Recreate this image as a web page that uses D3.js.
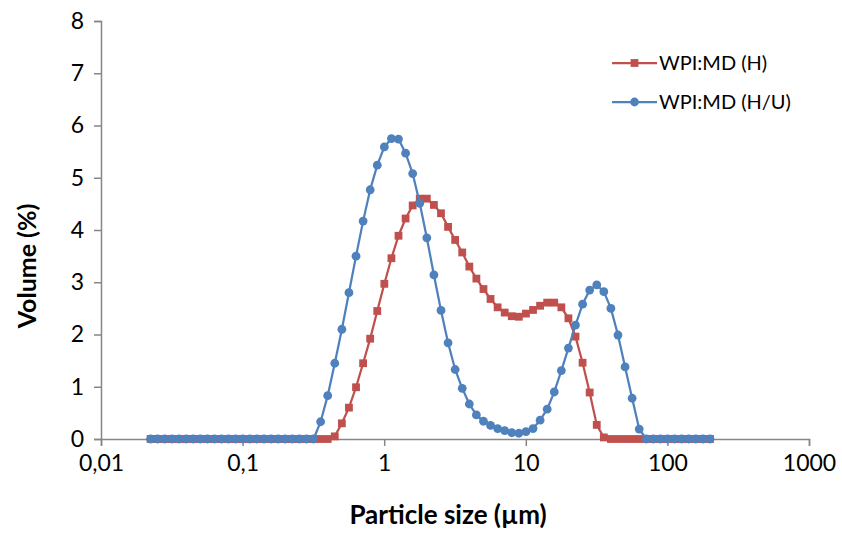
<!DOCTYPE html>
<html>
<head>
<meta charset="utf-8">
<script src="https://cdn.jsdelivr.net/npm/d3@7"></script>
<style>
  body { margin: 0; background: #fff; }
  text { font-family: Lato, "Open Sans", sans-serif; fill: #000; }
</style>
</head>
<body>
<div id="chart"></div>
<script>
// size classes (µm) of the diffraction analysis
const sizes = [
  0.0224, 0.0251, 0.0282, 0.0317, 0.0356, 0.0399, 0.0448, 0.0502, 0.0564, 0.0632,
  0.0710, 0.0796, 0.0893, 0.1002, 0.1125, 0.1262, 0.1416, 0.1589, 0.1783, 0.2,
  0.2244, 0.2518, 0.2825, 0.3170, 0.3557, 0.3991, 0.4477, 0.5024, 0.5637, 0.6325,
  0.7096, 0.7962, 0.8934, 1.0024, 1.1247, 1.2619, 1.4159, 1.5887, 1.7825, 2.0,
  2.244, 2.518, 2.825, 3.170, 3.557, 3.991, 4.477, 5.024, 5.637, 6.325,
  7.096, 7.962, 8.934, 10.024, 11.247, 12.619, 14.159, 15.887, 17.825, 20.0,
  22.440, 25.179, 28.251, 31.698, 35.566, 39.905, 44.774, 50.238, 56.368, 63.246,
  70.963, 79.621, 89.337, 100.237, 112.468, 126.191, 141.589, 158.866, 178.250, 200.0
];

// volume (%) per size class
const volH = [
  0, 0, 0, 0, 0, 0, 0, 0, 0, 0, 0, 0, 0, 0, 0, 0, 0, 0, 0, 0,
  0, 0, 0, 0, 0, 0, 0.05, 0.3, 0.6, 0.99, 1.45, 1.92, 2.45, 2.97, 3.46, 3.89, 4.22, 4.47, 4.6, 4.6,
  4.48, 4.32, 4.06, 3.81, 3.57, 3.3, 3.07, 2.87, 2.68, 2.52, 2.42, 2.35, 2.34, 2.4, 2.47, 2.55, 2.61, 2.61, 2.52, 2.31,
  1.96, 1.46, 0.89, 0.27, 0.03, 0, 0, 0, 0, 0, 0, 0, 0, 0, 0, 0, 0, 0, 0, 0
];
const volHU = [
  0, 0, 0, 0, 0, 0, 0, 0, 0, 0, 0, 0, 0, 0, 0, 0, 0, 0, 0, 0,
  0, 0, 0, 0, 0.33, 0.83, 1.45, 2.1, 2.8, 3.5, 4.17, 4.77, 5.24, 5.59, 5.75, 5.74, 5.47, 5.08, 4.51, 3.85,
  3.14, 2.46, 1.84, 1.33, 0.97, 0.67, 0.46, 0.34, 0.26, 0.2, 0.16, 0.12, 0.11, 0.14, 0.2, 0.36, 0.57, 0.9, 1.31, 1.74,
  2.18, 2.58, 2.85, 2.95, 2.82, 2.5, 1.99, 1.38, 0.78, 0.19, 0, 0, 0, 0, 0, 0, 0, 0, 0, 0
];

const seriesNames = ["WPI:MD (H)", "WPI:MD (H/U)"];
const xTicks = [0.01, 0.1, 1, 10, 100, 1000];
const xTickLabels = ["0,01", "0,1", "1", "10", "100", "1000"];
const yTicks = [0, 1, 2, 3, 4, 5, 6, 7, 8];

const margin = {top: 21, right: 33, bottom: 94, left: 101},
    width = 842 - margin.left - margin.right,
    height = 533 - margin.top - margin.bottom;

const svg = d3.select("#chart")
  .append("svg")
    .attr("width", 842)
    .attr("height", 533)
  .append("g")
    .attr("transform", `translate(${margin.left}, ${margin.top})`);

const x = d3.scaleLog().domain([0.01, 1000]).range([0, width]);
const y = d3.scaleLinear().domain([0, 8]).range([height, 0]);

const axisColor = "#868686";

// y axis
const yAxis = svg.append("g")
  .call(d3.axisLeft(y).tickValues(yTicks).tickSize(7).tickPadding(10).tickFormat(d3.format("d")));
yAxis.selectAll("text").style("font-size", "23px");

// x axis
const xAxis = svg.append("g")
  .attr("transform", `translate(0, ${height})`)
  .call(d3.axisBottom(x).tickValues(xTicks).tickSize(7).tickPadding(9)
    .tickFormat((d, i) => xTickLabels[i]));
xAxis.selectAll("text").style("font-size", "23px");

svg.selectAll(".domain").attr("stroke", axisColor).attr("stroke-width", 1.5);
svg.selectAll(".tick line").attr("stroke", axisColor).attr("stroke-width", 1.5);

// axis titles
svg.append("text")
  .attr("x", 448 - margin.left)
  .attr("y", height + 85)
  .attr("text-anchor", "middle")
  .style("font-size", "26px")
  .style("font-weight", "bold")
  .text("Particle size (µm)");

svg.append("text")
  .attr("transform", `translate(${-65}, ${245}) rotate(-90)`)
  .attr("text-anchor", "middle")
  .style("font-size", "25px")
  .style("font-weight", "bold")
  .text("Volume (%)");

const series = [
  {name: seriesNames[0], values: volH, color: "#C0504D", shape: "square"},
  {name: seriesNames[1], values: volHU, color: "#4F81BD", shape: "circle"}
];

const line = d3.line()
  .x((d, i) => x(sizes[i]))
  .y(d => y(d));

function drawMarker(g, shape, color) {
  if (shape === "square") {
    g.append("rect")
      .attr("x", -3.9).attr("y", -3.9)
      .attr("width", 7.8).attr("height", 7.8)
      .attr("fill", color);
  } else {
    g.append("circle")
      .attr("r", 4.4)
      .attr("fill", color);
  }
}

series.forEach(s => {
  svg.append("path")
    .datum(s.values)
    .attr("fill", "none")
    .attr("stroke", s.color)
    .attr("stroke-width", 2.25)
    .attr("d", line);

  svg.append("g")
    .selectAll("g")
    .data(s.values)
    .enter()
    .append("g")
      .attr("transform", (d, i) => `translate(${x(sizes[i])}, ${y(d)})`)
      .each(function() { drawMarker(d3.select(this), s.shape, s.color); });
});

// legend
const legend = svg.append("g")
  .attr("transform", `translate(${612 - margin.left}, ${63 - margin.top})`);

series.forEach((s, i) => {
  const row = legend.append("g").attr("transform", `translate(0, ${i * 39})`);
  row.append("line")
    .attr("x1", 0).attr("x2", 45)
    .attr("stroke", s.color)
    .attr("stroke-width", 2.25);
  drawMarker(row.append("g").attr("transform", "translate(22.5, 0)"), s.shape, s.color);
  row.append("text")
    .attr("x", 47)
    .attr("dy", "0.35em")
    .style("font-size", "20px")
    .text(s.name);
});
</script>
</body>
</html>
